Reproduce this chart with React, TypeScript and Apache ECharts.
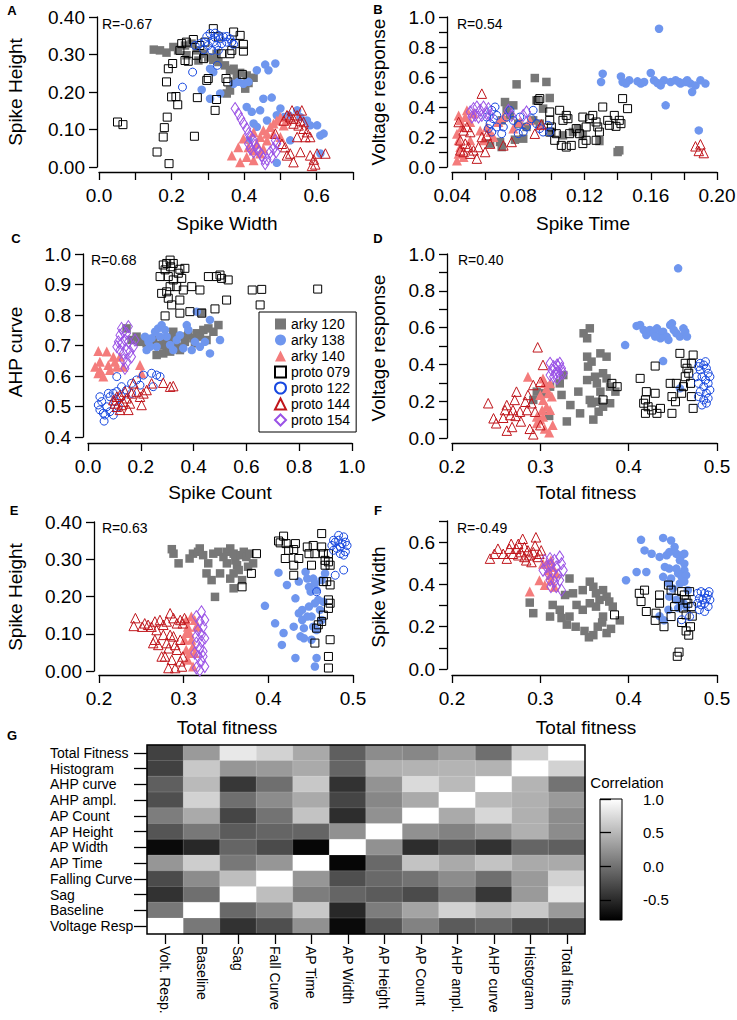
import React, { useEffect, useRef } from 'react';
import * as echarts from 'echarts';

// ---------- Panel A: Spike Width (x) vs Spike Height (y) ----------
const aArky120 = [[0.151,0.313],[0.168,0.311],[0.186,0.305],[0.205,0.320],[0.218,0.311],[0.237,0.324],[0.255,0.329],[0.269,0.311],[0.288,0.302],[0.301,0.292],[0.315,0.286],[0.329,0.280],[0.347,0.271],[0.361,0.258],[0.371,0.262],[0.389,0.251],[0.407,0.244],[0.426,0.238],[0.412,0.224],[0.403,0.209],[0.361,0.204],[0.352,0.196],[0.241,0.298],[0.274,0.284],[0.324,0.302],[0.380,0.240]];
const aArky138 = [[0.306,0.262],[0.315,0.253],[0.283,0.206],[0.306,0.182],[0.334,0.196],[0.371,0.222],[0.384,0.227],[0.398,0.222],[0.412,0.227],[0.435,0.258],[0.458,0.273],[0.467,0.258],[0.486,0.276],[0.407,0.160],[0.421,0.147],[0.444,0.151],[0.453,0.182],[0.476,0.185],[0.426,0.116],[0.435,0.107],[0.463,0.124],[0.490,0.138],[0.500,0.156],[0.509,0.133],[0.523,0.138],[0.546,0.151],[0.555,0.133],[0.573,0.124],[0.582,0.111],[0.601,0.111],[0.610,0.084],[0.619,0.089],[0.610,0.036],[0.490,0.011],[0.527,0.071],[0.412,0.071]];
const aArky140 = [[0.366,0.031],[0.389,0.013],[0.407,0.027],[0.426,0.044],[0.435,0.062],[0.444,0.080],[0.453,0.098],[0.463,0.089],[0.472,0.107],[0.481,0.116],[0.490,0.124],[0.500,0.133],[0.481,0.089],[0.426,0.093],[0.398,0.076],[0.384,0.053],[0.412,0.053],[0.444,0.036],[0.463,0.071],[0.509,0.111],[0.518,0.124],[0.500,0.080],[0.426,0.018],[0.453,0.049]];
const aProto079 = [[0.051,0.120],[0.066,0.113],[0.160,0.040],[0.177,0.080],[0.180,0.105],[0.188,0.133],[0.200,0.187],[0.212,0.188],[0.217,0.166],[0.186,0.227],[0.191,0.262],[0.203,0.276],[0.223,0.311],[0.228,0.329],[0.241,0.333],[0.246,0.282],[0.260,0.340],[0.269,0.298],[0.278,0.324],[0.288,0.289],[0.297,0.231],[0.301,0.236],[0.271,0.185],[0.320,0.151],[0.324,0.180],[0.315,0.369],[0.329,0.347],[0.338,0.302],[0.361,0.302],[0.366,0.311],[0.371,0.360],[0.375,0.329],[0.389,0.351],[0.398,0.327],[0.398,0.309],[0.350,0.236],[0.355,0.227],[0.263,0.082],[0.193,0.009],[0.237,0.284],[0.292,0.333],[0.395,0.247]];
const aProto122 = [[0.297,0.348],[0.306,0.356],[0.320,0.357],[0.329,0.351],[0.334,0.342],[0.343,0.347],[0.352,0.348],[0.361,0.342],[0.366,0.333],[0.315,0.333],[0.301,0.324],[0.292,0.333],[0.324,0.324],[0.338,0.329],[0.265,0.324],[0.278,0.329],[0.311,0.311],[0.329,0.311],[0.258,0.253],[0.230,0.213],[0.326,0.271],[0.371,0.327],[0.288,0.313],[0.352,0.333],[0.320,0.345]];
const aProto144 = [[0.509,0.124],[0.518,0.138],[0.527,0.133],[0.536,0.129],[0.546,0.138],[0.555,0.124],[0.559,0.151],[0.536,0.116],[0.550,0.111],[0.564,0.102],[0.573,0.093],[0.582,0.080],[0.569,0.080],[0.486,0.089],[0.504,0.062],[0.513,0.053],[0.527,0.036],[0.536,0.013],[0.518,0.031],[0.555,0.040],[0.582,0.031],[0.592,0.020],[0.601,0.036],[0.624,0.036],[0.596,0.007],[0.587,0.003],[0.546,0.080],[0.532,0.151],[0.564,0.120]];
const aProto154 = [[0.375,0.156],[0.384,0.142],[0.391,0.129],[0.398,0.116],[0.407,0.102],[0.412,0.089],[0.418,0.080],[0.426,0.071],[0.430,0.058],[0.435,0.049],[0.442,0.040],[0.449,0.031],[0.453,0.022],[0.458,0.009],[0.463,0.020],[0.472,0.040],[0.481,0.049],[0.488,0.040],[0.490,0.062],[0.486,0.071],[0.476,0.027],[0.426,0.040],[0.417,0.049],[0.412,0.062]];

// ---------- Panel B: Spike Time (x) vs Voltage response (y) ----------
const bArky120 = [[0.079,0.551],[0.090,0.593],[0.097,0.567],[0.099,0.460],[0.091,0.444],[0.095,0.389],[0.072,0.433],[0.077,0.411],[0.073,0.378],[0.075,0.344],[0.070,0.311],[0.080,0.289],[0.085,0.267],[0.083,0.189],[0.089,0.311],[0.093,0.289],[0.100,0.233],[0.107,0.211],[0.113,0.233],[0.116,0.256],[0.119,0.211],[0.129,0.173],[0.140,0.100],[0.141,0.111],[0.063,0.156],[0.069,0.167],[0.070,0.133],[0.078,0.182]];
const bArky138 = [[0.131,0.622],[0.130,0.567],[0.142,0.604],[0.143,0.567],[0.147,0.578],[0.152,0.571],[0.156,0.567],[0.160,0.627],[0.162,0.578],[0.164,0.560],[0.168,0.578],[0.172,0.567],[0.175,0.578],[0.178,0.556],[0.181,0.567],[0.184,0.556],[0.187,0.544],[0.190,0.578],[0.193,0.556],[0.185,0.500],[0.165,0.922],[0.169,0.411],[0.189,0.244],[0.145,0.556],[0.154,0.556],[0.166,0.544],[0.177,0.567],[0.182,0.578]];
const bArky140 = [[0.044,0.344],[0.045,0.311],[0.046,0.267],[0.043,0.222],[0.044,0.178],[0.045,0.133],[0.044,0.089],[0.043,0.044],[0.047,0.067],[0.048,0.333],[0.049,0.378],[0.051,0.300],[0.053,0.356],[0.057,0.244],[0.061,0.267],[0.063,0.233],[0.068,0.300],[0.071,0.333],[0.077,0.256],[0.081,0.300],[0.087,0.311],[0.093,0.278],[0.059,0.178],[0.051,0.178],[0.065,0.200]];
const bProto079 = [[0.092,0.444],[0.093,0.456],[0.099,0.311],[0.100,0.267],[0.099,0.233],[0.102,0.178],[0.105,0.378],[0.107,0.311],[0.109,0.344],[0.110,0.322],[0.111,0.222],[0.112,0.144],[0.106,0.144],[0.109,0.133],[0.103,0.222],[0.119,0.333],[0.121,0.267],[0.123,0.322],[0.125,0.344],[0.127,0.300],[0.128,0.267],[0.129,0.233],[0.121,0.178],[0.119,0.156],[0.127,0.178],[0.131,0.400],[0.134,0.311],[0.135,0.278],[0.138,0.344],[0.141,0.311],[0.142,0.289],[0.143,0.456],[0.146,0.389],[0.139,0.271],[0.115,0.256],[0.117,0.222],[0.099,0.367]];
const bProto122 = [[0.064,0.378],[0.066,0.400],[0.067,0.344],[0.065,0.322],[0.063,0.289],[0.062,0.256],[0.064,0.233],[0.067,0.267],[0.070,0.222],[0.073,0.333],[0.075,0.378],[0.077,0.311],[0.080,0.278],[0.080,0.222],[0.083,0.233],[0.085,0.267],[0.088,0.322],[0.089,0.378],[0.091,0.289],[0.093,0.256],[0.095,0.233],[0.098,0.278],[0.099,0.233],[0.061,0.333],[0.071,0.267],[0.081,0.333]];
const bProto144 = [[0.044,0.300],[0.047,0.244],[0.049,0.267],[0.051,0.233],[0.045,0.178],[0.048,0.156],[0.050,0.133],[0.045,0.111],[0.047,0.100],[0.051,0.089],[0.053,0.111],[0.055,0.056],[0.056,0.133],[0.058,0.200],[0.060,0.100],[0.063,0.156],[0.058,0.489],[0.061,0.211],[0.071,0.144],[0.076,0.167],[0.090,0.222],[0.094,0.284],[0.187,0.138],[0.190,0.151],[0.189,0.107],[0.192,0.093]];
const bProto154 = [[0.051,0.367],[0.053,0.389],[0.055,0.400],[0.057,0.378],[0.059,0.400],[0.054,0.344],[0.056,0.333],[0.061,0.356],[0.062,0.389],[0.052,0.333],[0.058,0.344],[0.063,0.344],[0.074,0.378],[0.076,0.344],[0.083,0.344],[0.085,0.367]];

// ---------- Panel C: Spike Count (x) vs AHP curve (y) ----------
const cArky120 = [[0.146,0.756],[0.165,0.718],[0.184,0.729],[0.197,0.712],[0.222,0.707],[0.247,0.718],[0.273,0.702],[0.285,0.718],[0.298,0.696],[0.311,0.712],[0.323,0.724],[0.336,0.696],[0.355,0.729],[0.367,0.712],[0.380,0.734],[0.399,0.724],[0.412,0.740],[0.424,0.729],[0.437,0.751],[0.456,0.756],[0.475,0.745],[0.494,0.767],[0.431,0.808],[0.323,0.745],[0.260,0.669],[0.285,0.674],[0.311,0.680],[0.348,0.685],[0.405,0.707],[0.449,0.718]];
const cArky138 = [[0.229,0.712],[0.241,0.724],[0.254,0.745],[0.266,0.756],[0.279,0.767],[0.292,0.751],[0.260,0.696],[0.235,0.696],[0.222,0.685],[0.298,0.729],[0.311,0.702],[0.336,0.718],[0.348,0.734],[0.374,0.767],[0.380,0.751],[0.412,0.811],[0.405,0.712],[0.424,0.696],[0.443,0.712],[0.462,0.784],[0.462,0.674],[0.500,0.718],[0.393,0.685],[0.361,0.691],[0.323,0.685],[0.273,0.729],[0.216,0.729]];
const cArky140 = [[0.039,0.682],[0.071,0.680],[0.102,0.647],[0.121,0.663],[0.045,0.647],[0.077,0.636],[0.039,0.609],[0.058,0.598],[0.083,0.620],[0.109,0.630],[0.134,0.630],[0.197,0.636],[0.203,0.609],[0.096,0.663],[0.045,0.620],[0.027,0.630]];
const cProto079 = [[0.311,0.980],[0.298,0.969],[0.285,0.964],[0.292,0.948],[0.313,0.958],[0.323,0.969],[0.348,0.950],[0.367,0.953],[0.342,0.937],[0.304,0.926],[0.323,0.915],[0.355,0.920],[0.311,0.893],[0.336,0.893],[0.361,0.882],[0.393,0.893],[0.424,0.882],[0.456,0.926],[0.500,0.931],[0.506,0.920],[0.531,0.915],[0.487,0.926],[0.279,0.871],[0.298,0.876],[0.304,0.855],[0.348,0.849],[0.317,0.833],[0.292,0.797],[0.348,0.806],[0.386,0.811],[0.431,0.806],[0.481,0.820],[0.525,0.849],[0.622,0.882],[0.658,0.884],[0.652,0.833],[0.870,0.885],[0.273,0.926]];
const cProto122 = [[0.039,0.505],[0.052,0.516],[0.045,0.489],[0.058,0.478],[0.071,0.499],[0.083,0.532],[0.096,0.543],[0.109,0.549],[0.102,0.516],[0.083,0.483],[0.064,0.472],[0.109,0.598],[0.127,0.565],[0.146,0.554],[0.165,0.576],[0.184,0.587],[0.197,0.570],[0.210,0.603],[0.241,0.609],[0.260,0.603],[0.273,0.598],[0.247,0.565],[0.115,0.499],[0.096,0.472],[0.077,0.543],[0.045,0.532],[0.127,0.532],[0.165,0.543],[0.061,0.452]];
const cProto144 = [[0.096,0.521],[0.109,0.532],[0.121,0.538],[0.134,0.516],[0.146,0.527],[0.159,0.510],[0.127,0.505],[0.109,0.499],[0.140,0.549],[0.165,0.543],[0.172,0.576],[0.184,0.549],[0.197,0.532],[0.210,0.543],[0.222,0.554],[0.241,0.576],[0.285,0.578],[0.311,0.565],[0.323,0.567],[0.153,0.489],[0.121,0.489],[0.102,0.510],[0.203,0.505]];
const cProto154 = [[0.127,0.756],[0.121,0.734],[0.134,0.745],[0.146,0.740],[0.115,0.712],[0.127,0.707],[0.140,0.718],[0.153,0.712],[0.121,0.685],[0.134,0.674],[0.146,0.685],[0.159,0.680],[0.134,0.653],[0.146,0.642],[0.165,0.663],[0.172,0.696],[0.178,0.718],[0.109,0.696],[0.153,0.762],[0.140,0.625]];

// ---------- Panel D: Total fitness (x) vs Voltage response (y) ----------
const dArky120 = [[0.349,0.569],[0.356,0.596],[0.353,0.542],[0.353,0.442],[0.358,0.415],[0.354,0.388],[0.368,0.460],[0.375,0.442],[0.371,0.352],[0.375,0.324],[0.362,0.333],[0.353,0.315],[0.364,0.297],[0.368,0.252],[0.379,0.279],[0.385,0.252],[0.356,0.207],[0.364,0.197],[0.371,0.170],[0.379,0.189],[0.343,0.252],[0.334,0.179],[0.324,0.234],[0.322,0.297],[0.326,0.342],[0.311,0.279],[0.303,0.243],[0.296,0.252],[0.292,0.207],[0.345,0.134],[0.366,0.143],[0.358,0.189],[0.310,0.120],[0.330,0.090],[0.360,0.100]];
const dArky138 = [[0.409,0.609],[0.413,0.614],[0.417,0.587],[0.420,0.560],[0.424,0.587],[0.428,0.569],[0.432,0.596],[0.436,0.560],[0.439,0.578],[0.443,0.551],[0.447,0.614],[0.449,0.623],[0.451,0.587],[0.454,0.569],[0.458,0.551],[0.462,0.596],[0.464,0.578],[0.466,0.551],[0.436,0.542],[0.445,0.533],[0.430,0.551],[0.456,0.922],[0.396,0.505],[0.439,0.418],[0.458,0.270]];
const dArky140 = [[0.303,0.324],[0.305,0.297],[0.307,0.270],[0.309,0.243],[0.311,0.297],[0.313,0.225],[0.303,0.207],[0.307,0.170],[0.311,0.152],[0.300,0.234],[0.302,0.152],[0.296,0.116],[0.303,0.116],[0.286,0.333],[0.296,0.080],[0.305,0.050],[0.310,0.030],[0.300,0.100],[0.314,0.070]];
const dProto079 = [[0.430,0.391],[0.413,0.324],[0.420,0.252],[0.419,0.207],[0.417,0.189],[0.422,0.170],[0.430,0.243],[0.426,0.152],[0.436,0.161],[0.419,0.134],[0.449,0.225],[0.453,0.197],[0.447,0.297],[0.458,0.460],[0.464,0.406],[0.466,0.379],[0.468,0.352],[0.471,0.406],[0.473,0.451],[0.464,0.333],[0.470,0.297],[0.460,0.243],[0.471,0.225],[0.462,0.279],[0.454,0.297],[0.473,0.161],[0.381,0.297],[0.387,0.279],[0.371,0.207],[0.432,0.134],[0.449,0.134]];
const dProto122 = [[0.479,0.388],[0.481,0.370],[0.485,0.397],[0.488,0.379],[0.490,0.352],[0.483,0.333],[0.487,0.315],[0.479,0.297],[0.485,0.279],[0.490,0.297],[0.481,0.252],[0.488,0.243],[0.479,0.225],[0.485,0.207],[0.490,0.216],[0.483,0.179],[0.488,0.189],[0.477,0.333],[0.492,0.333],[0.492,0.261],[0.481,0.406],[0.487,0.415]];
const dProto144 = [[0.297,0.493],[0.303,0.397],[0.300,0.306],[0.292,0.288],[0.286,0.234],[0.273,0.252],[0.271,0.207],[0.262,0.179],[0.241,0.189],[0.260,0.152],[0.269,0.152],[0.277,0.143],[0.285,0.152],[0.294,0.143],[0.290,0.189],[0.283,0.197],[0.247,0.107],[0.266,0.125],[0.250,0.080],[0.258,0.110],[0.268,0.060],[0.278,0.090],[0.288,0.050],[0.292,0.020],[0.272,0.120],[0.300,0.070],[0.262,0.040]];
const dProto154 = [[0.311,0.406],[0.315,0.388],[0.319,0.397],[0.322,0.406],[0.313,0.370],[0.317,0.352],[0.320,0.361],[0.324,0.379],[0.315,0.333],[0.319,0.324],[0.322,0.342],[0.311,0.342],[0.326,0.352],[0.320,0.388]];

// ---------- Panel E: Total fitness (x) vs Spike Height (y) ----------
const eArky120 = [[0.286,0.327],[0.288,0.315],[0.294,0.289],[0.307,0.302],[0.311,0.315],[0.317,0.320],[0.319,0.329],[0.323,0.311],[0.329,0.289],[0.335,0.315],[0.341,0.320],[0.347,0.306],[0.351,0.320],[0.355,0.329],[0.359,0.315],[0.361,0.297],[0.363,0.284],[0.367,0.311],[0.371,0.320],[0.374,0.306],[0.378,0.315],[0.382,0.289],[0.376,0.280],[0.365,0.271],[0.355,0.248],[0.359,0.222],[0.337,0.199],[0.327,0.262],[0.333,0.244],[0.343,0.262],[0.359,0.262],[0.351,0.289],[0.369,0.244]];
const eArky138 = [[0.396,0.175],[0.408,0.128],[0.412,0.264],[0.416,0.070],[0.418,0.102],[0.422,0.231],[0.432,0.195],[0.432,0.035],[0.436,0.155],[0.440,0.137],[0.442,0.115],[0.444,0.266],[0.446,0.248],[0.448,0.226],[0.450,0.213],[0.453,0.248],[0.455,0.235],[0.457,0.217],[0.459,0.191],[0.461,0.164],[0.463,0.137],[0.465,0.186],[0.455,0.182],[0.451,0.146],[0.446,0.146],[0.438,0.093],[0.442,0.088],[0.455,0.012],[0.457,0.035],[0.451,0.084],[0.457,0.110],[0.463,0.244],[0.467,0.262],[0.436,0.240],[0.430,0.119],[0.440,0.164],[0.448,0.173],[0.453,0.119]];
const eArky140 = [[0.303,0.137],[0.305,0.119],[0.307,0.102],[0.309,0.084],[0.311,0.066],[0.313,0.137],[0.315,0.119],[0.307,0.048],[0.305,0.030],[0.311,0.012],[0.301,0.084],[0.303,0.057],[0.309,0.146],[0.313,0.048],[0.303,0.102]];
const eProto079 = [[0.386,0.315],[0.380,0.262],[0.369,0.226],[0.412,0.349],[0.414,0.344],[0.418,0.362],[0.421,0.342],[0.424,0.324],[0.430,0.326],[0.430,0.284],[0.420,0.302],[0.432,0.342],[0.436,0.302],[0.446,0.333],[0.448,0.315],[0.453,0.337],[0.455,0.315],[0.451,0.284],[0.463,0.369],[0.463,0.333],[0.465,0.315],[0.467,0.297],[0.467,0.284],[0.471,0.315],[0.471,0.293],[0.473,0.284],[0.469,0.240],[0.473,0.231],[0.465,0.240],[0.471,0.191],[0.473,0.182],[0.471,0.168],[0.465,0.150],[0.463,0.133],[0.459,0.124],[0.457,0.115],[0.473,0.084],[0.455,0.075],[0.471,0.039],[0.471,0.008],[0.430,0.257]];
const eProto122 = [[0.475,0.337],[0.479,0.346],[0.483,0.351],[0.487,0.342],[0.489,0.360],[0.485,0.333],[0.481,0.329],[0.477,0.324],[0.491,0.320],[0.489,0.311],[0.485,0.315],[0.493,0.337],[0.479,0.257],[0.489,0.271],[0.457,0.213],[0.477,0.351],[0.483,0.364],[0.491,0.346]];
const eProto144 = [[0.243,0.142],[0.241,0.121],[0.251,0.119],[0.254,0.128],[0.258,0.124],[0.262,0.119],[0.266,0.133],[0.268,0.110],[0.272,0.137],[0.276,0.124],[0.280,0.133],[0.284,0.155],[0.288,0.142],[0.292,0.128],[0.296,0.137],[0.299,0.128],[0.301,0.142],[0.266,0.084],[0.270,0.070],[0.276,0.097],[0.280,0.075],[0.282,0.061],[0.284,0.097],[0.288,0.093],[0.290,0.070],[0.292,0.057],[0.296,0.084],[0.274,0.039],[0.278,0.039],[0.286,0.030],[0.282,0.008],[0.290,0.008],[0.296,0.026],[0.298,0.012],[0.299,0.039],[0.264,0.075]];
const eProto154 = [[0.321,0.159],[0.315,0.146],[0.319,0.133],[0.323,0.119],[0.317,0.110],[0.321,0.097],[0.325,0.088],[0.315,0.075],[0.319,0.061],[0.323,0.053],[0.317,0.039],[0.321,0.026],[0.325,0.012],[0.315,0.008],[0.319,0.002],[0.323,0.039],[0.313,0.048],[0.325,0.137],[0.315,0.093],[0.321,0.079]];

// ---------- Panel F: Total fitness (x) vs Spike Width (y) ----------
const fArky120 = [[0.288,0.314],[0.292,0.264],[0.314,0.303],[0.322,0.280],[0.328,0.350],[0.333,0.428],[0.337,0.358],[0.348,0.373],[0.356,0.413],[0.360,0.389],[0.363,0.358],[0.367,0.327],[0.371,0.373],[0.375,0.342],[0.378,0.319],[0.382,0.295],[0.363,0.295],[0.371,0.248],[0.356,0.311],[0.348,0.280],[0.341,0.303],[0.333,0.248],[0.324,0.241],[0.311,0.248],[0.340,0.200],[0.350,0.180],[0.360,0.160],[0.370,0.220],[0.380,0.190],[0.390,0.230],[0.330,0.210],[0.365,0.200],[0.355,0.150],[0.375,0.170]];
const fArky138 = [[0.414,0.611],[0.439,0.620],[0.448,0.608],[0.418,0.561],[0.426,0.545],[0.435,0.530],[0.443,0.538],[0.446,0.553],[0.452,0.577],[0.454,0.545],[0.460,0.538],[0.463,0.545],[0.458,0.514],[0.463,0.498],[0.441,0.483],[0.446,0.475],[0.454,0.475],[0.463,0.467],[0.409,0.459],[0.420,0.459],[0.439,0.436],[0.448,0.428],[0.456,0.452],[0.460,0.436],[0.465,0.444],[0.397,0.420],[0.445,0.405],[0.450,0.381],[0.458,0.405],[0.463,0.413],[0.467,0.373],[0.446,0.342],[0.454,0.327],[0.462,0.311],[0.445,0.280],[0.456,0.288],[0.465,0.295],[0.440,0.230],[0.435,0.250]];
const fArky140 = [[0.288,0.366],[0.299,0.420],[0.305,0.397],[0.307,0.498],[0.309,0.467],[0.311,0.444],[0.312,0.420],[0.314,0.483],[0.316,0.389],[0.318,0.452],[0.303,0.498],[0.312,0.514]];
const fProto079 = [[0.412,0.358],[0.414,0.319],[0.418,0.373],[0.435,0.350],[0.435,0.311],[0.445,0.397],[0.448,0.373],[0.454,0.334],[0.460,0.366],[0.463,0.350],[0.465,0.327],[0.469,0.366],[0.467,0.311],[0.471,0.295],[0.452,0.295],[0.462,0.288],[0.420,0.272],[0.431,0.264],[0.448,0.248],[0.465,0.256],[0.384,0.256],[0.440,0.200],[0.460,0.220],[0.465,0.180],[0.470,0.200],[0.455,0.060],[0.457,0.080],[0.430,0.230],[0.472,0.250],[0.468,0.160]];
const fProto122 = [[0.478,0.358],[0.482,0.366],[0.486,0.358],[0.490,0.350],[0.480,0.334],[0.484,0.327],[0.488,0.334],[0.492,0.327],[0.478,0.311],[0.482,0.303],[0.486,0.311],[0.490,0.295],[0.480,0.280],[0.486,0.272],[0.491,0.366],[0.469,0.248],[0.460,0.233]];
const fProto144 = [[0.243,0.522],[0.248,0.545],[0.252,0.569],[0.258,0.545],[0.262,0.522],[0.265,0.569],[0.269,0.545],[0.273,0.569],[0.275,0.538],[0.278,0.553],[0.282,0.577],[0.286,0.561],[0.288,0.538],[0.292,0.553],[0.295,0.623],[0.294,0.584],[0.297,0.530],[0.301,0.561],[0.284,0.514],[0.290,0.506],[0.282,0.530],[0.267,0.592],[0.275,0.592],[0.280,0.616],[0.299,0.545]];
const fProto154 = [[0.305,0.514],[0.311,0.522],[0.316,0.514],[0.322,0.530],[0.307,0.483],[0.312,0.491],[0.318,0.483],[0.324,0.498],[0.309,0.452],[0.314,0.459],[0.320,0.444],[0.326,0.467],[0.311,0.420],[0.316,0.413],[0.322,0.420],[0.318,0.389],[0.324,0.373],[0.312,0.389],[0.303,0.467]];

// ---------- Panel G: correlation matrix ----------
const corrRowLabels = ['Total Fitness','Histogram','AHP curve','AHP ampl.','AP Count','AP Height','AP Width','AP Time','Falling Curve','Sag','Baseline','Voltage Resp'];
const corrColLabels = ['Volt. Resp.','Baseline','Sag','Fall Curve','AP Time','AP Width','AP Height','AP Count','AHP ampl.','AHP curve','Histogram','Total fitns'];
const corrTotalFitness = [-0.34,0.29,0.84,0.68,0.39,-0.13,0.19,0.15,0.33,-0.02,0.65,1.0];
const corrHistogram = [-0.34,0.61,0.26,0.29,0.40,-0.09,0.44,0.46,0.47,0.46,1.0,0.68];
const corrAhpCurve = [-0.13,0.51,-0.41,-0.02,0.61,-0.45,0.24,0.74,0.51,1.0,0.47,0.01];
const corrAhpAmpl = [-0.24,0.68,-0.02,0.19,0.40,-0.31,0.15,0.40,1.0,0.51,0.44,0.29];
const corrApCount = [0.08,0.40,-0.31,0.01,0.58,-0.48,0.22,1.0,0.40,0.72,0.44,0.19];
const corrApHeight = [-0.20,0.05,-0.16,-0.09,-0.09,0.22,1.0,0.22,0.12,0.26,0.44,0.19];
const corrApWidth = [-0.73,-0.52,-0.09,-0.27,-0.76,1.0,0.22,-0.48,-0.27,-0.45,-0.09,-0.13];
const corrApTime = [0.26,0.65,0.05,0.26,1.0,-0.76,-0.06,0.58,0.40,0.58,0.40,0.40];
const corrFallingCurve = [-0.27,0.19,0.54,1.0,0.26,-0.24,-0.06,0.01,0.19,-0.02,0.29,0.68];
const corrSag = [-0.45,-0.02,1.0,0.54,0.08,-0.09,-0.16,-0.27,0.01,-0.41,0.29,0.82];
const corrBaseline = [0.05,1.0,-0.06,0.15,0.61,-0.52,0.08,0.36,0.68,0.51,0.61,0.29];
const corrVoltageResp = [1.0,0.05,-0.45,-0.24,0.22,-0.73,-0.20,0.12,-0.16,-0.09,-0.27,-0.27];
const corrRows = [corrTotalFitness,corrHistogram,corrAhpCurve,corrAhpAmpl,corrApCount,corrApHeight,corrApWidth,corrApTime,corrFallingCurve,corrSag,corrBaseline,corrVoltageResp];
const corrMin = -0.8;
const corrMax = 1.0;
const colorbarTicks = [-0.5, 0, 0.5, 1.0];

const seriesNames = ['arky 120','arky 138','arky 140','proto 079','proto 122','proto 144','proto 154'];
const rValues = ['R=-0.67','R=0.54','R=0.68','R=0.40','R=0.63','R=-0.49'];

const panelSets = [
  [aArky120,aArky138,aArky140,aProto079,aProto122,aProto144,aProto154],
  [bArky120,bArky138,bArky140,bProto079,bProto122,bProto144,bProto154],
  [cArky120,cArky138,cArky140,cProto079,cProto122,cProto144,cProto154],
  [dArky120,dArky138,dArky140,dProto079,dProto122,dProto144,dProto154],
  [eArky120,eArky138,eArky140,eProto079,eProto122,eProto144,eProto154],
  [fArky120,fArky138,fArky140,fProto079,fProto122,fProto144,fProto154],
];

const FONT = "'Liberation Sans', Arial, Helvetica, sans-serif";

const STYLES = [
  { symbol: 'rect', size: 8.5, color: '#777777', open: false },
  { symbol: 'circle', size: 8.5, color: '#6f96ee', open: false },
  { symbol: 'triangle', size: 10, color: '#f47c7c', open: false },
  { symbol: 'rect', size: 8, color: '#000000', open: true },
  { symbol: 'circle', size: 8, color: '#1748e0', open: true },
  { symbol: 'triangle', size: 9.5, color: '#c0161c', open: true },
  { symbol: 'diamond', size: [8, 12], color: '#9a52e6', open: true },
];

const LAYOUT = [
  { left: 99, top: 17, width: 254, height: 150, x: { min: 0, max: 0.7, step: 0.1, every: 2, d: 1, offset: 5 }, y: { min: 0, max: 0.4, step: 0.1, every: 1, d: 2, offset: 2 } },
  { left: 452, top: 17, width: 265, height: 150, x: { min: 0.04, max: 0.2, step: 0.02, every: 2, d: 2, offset: 5 }, y: { min: 0, max: 1, step: 0.1, every: 2, d: 1, offset: 5 } },
  { left: 88, top: 254, width: 264, height: 183, x: { min: 0, max: 1, step: 0.2, every: 1, d: 1, offset: 6 }, y: { min: 0.4, max: 1, step: 0.1, every: 1, d: 1, offset: 5 } },
  { left: 452, top: 254, width: 265, height: 184, x: { min: 0.2, max: 0.5, step: 0.1, every: 1, d: 1, offset: 5 }, y: { min: 0, max: 1, step: 0.1, every: 2, d: 1, offset: 5 } },
  { left: 99, top: 522, width: 254, height: 149, x: { min: 0.2, max: 0.5, step: 0.1, every: 1, d: 1, offset: 4 }, y: { min: 0, max: 0.4, step: 0.1, every: 1, d: 2, offset: 5 } },
  { left: 452, top: 521, width: 265, height: 148, x: { min: 0.2, max: 0.5, step: 0.1, every: 1, d: 1, offset: 6 }, y: { min: 0, max: 0.7, step: 0.1, every: 2, d: 1, offset: 5 } },
];

const LETTERS = [
  ['A', 12, 10], ['B', 378, 9], ['C', 16, 238], ['D', 378, 238], ['E', 14, 510], ['F', 378, 510], ['G', 12, 735],
];
const R_POS = [[102, 24], [457, 24], [91, 260], [458, 260], [102, 528], [457, 528]];
const X_TITLES = [['Spike Width', 227, 223], ['Spike Time', 583, 223], ['Spike Count', 220, 492], ['Total fitness', 586, 492], ['Total fitness', 227, 727], ['Total fitness', 586, 727]];
const Y_TITLES = [['Spike Height', 15, 92], ['Voltage response', 378, 92], ['AHP curve', 15, 352], ['Voltage response', 378, 348], ['Spike Height', 15, 597], ['Spike Width', 378, 597]];

function valAxis(kind: 'x' | 'y', gi: number, ax: any) {
  return {
    type: 'value',
    gridIndex: gi,
    min: ax.min,
    max: ax.max,
    interval: ax.step,
    position: kind === 'x' ? 'bottom' : 'left',
    offset: ax.offset,
    axisLine: { show: true, onZero: false, lineStyle: { color: '#000', width: 1.3 } },
    axisTick: { show: true, inside: false, length: 8, lineStyle: { color: '#000', width: 1.3 } },
    minorTick: { show: false },
    splitLine: { show: false },
    axisLabel: {
      show: true,
      fontSize: 19,
      color: '#000',
      fontFamily: FONT,
      margin: kind === 'x' ? 14 : 12,
      showMinLabel: true,
      showMaxLabel: true,
      formatter: (v: number) => {
        const k = Math.round(v / ax.step);
        return k % ax.every === 0 ? v.toFixed(ax.d) : '';
      },
    },
  };
}

function txt(text: string, x: number, y: number, size: number, opts: any = {}) {
  const align = opts.align || 'center';
  return {
    type: 'text',
    x,
    y,
    rotation: opts.rotation || 0,
    silent: true,
    z: 100,
    style: {
      text,
      fill: '#000',
      fontSize: size,
      fontFamily: FONT,
      fontWeight: opts.bold ? 'bold' : 'normal',
      textAlign: align,
      align,
      textVerticalAlign: 'middle',
      verticalAlign: 'middle',
    },
  };
}

function buildOption() {
  const grid: any[] = [];
  const xAxis: any[] = [];
  const yAxis: any[] = [];
  const series: any[] = [];

  LAYOUT.forEach((L, gi) => {
    grid.push({ left: L.left, top: L.top, width: L.width, height: L.height, containLabel: false, outerBoundsMode: 'none', show: false });
    xAxis.push(valAxis('x', gi, L.x));
    yAxis.push(valAxis('y', gi, L.y));
  });

  panelSets.forEach((sets, gi) => {
    sets.forEach((data, si) => {
      const s = STYLES[si];
      series.push({
        type: 'scatter',
        name: seriesNames[si],
        xAxisIndex: gi,
        yAxisIndex: gi,
        data,
        symbol: s.symbol,
        symbolSize: s.size,
        clip: false,
        silent: true,
        z: 2 + si * 0.01,
        itemStyle: s.open
          ? { color: 'rgba(255,255,255,0)', borderColor: s.color, borderWidth: 1, opacity: 1 }
          : { color: s.color, borderWidth: 0, opacity: 1 },
        emphasis: { disabled: true },
      });
    });
  });

  // heatmap grid (index 6)
  grid.push({ left: 147, top: 745, width: 438, height: 189, containLabel: false, outerBoundsMode: 'none', show: true, borderColor: '#000', borderWidth: 1.5, backgroundColor: 'transparent', z: 3 });
  xAxis.push({
    type: 'category', gridIndex: 6, data: corrColLabels, position: 'bottom',
    axisLine: { show: false },
    axisTick: { show: true, alignWithLabel: true, length: 10, lineStyle: { color: '#000', width: 1.3 } },
    axisLabel: { interval: 0, rotate: -90, margin: 12, fontSize: 14, color: '#000', fontFamily: FONT },
    splitLine: { show: false },
  });
  yAxis.push({
    type: 'category', gridIndex: 6, data: corrRowLabels.slice().reverse(), position: 'left',
    axisLine: { show: false },
    axisTick: { show: true, alignWithLabel: true, length: 13, lineStyle: { color: '#000', width: 1.3 } },
    axisLabel: { interval: 0, align: 'left', margin: 97, fontSize: 14, color: '#000', fontFamily: FONT },
    splitLine: { show: false },
  });
  const heatData: number[][] = [];
  corrRows.forEach((row, r) => row.forEach((v, c) => heatData.push([c, corrRows.length - 1 - r, v])));
  const heatIndex = series.length;
  series.push({
    type: 'heatmap', xAxisIndex: 6, yAxisIndex: 6, data: heatData, silent: true,
    itemStyle: { borderColor: 'rgba(255,255,255,0.25)', borderWidth: 0.6 },
    emphasis: { disabled: true },
  });

  // colorbar grid (index 7)
  grid.push({
    left: 600, top: 799, width: 22, height: 121, containLabel: false, outerBoundsMode: 'none', show: true,
    borderColor: '#000', borderWidth: 1,
    backgroundColor: new echarts.graphic.LinearGradient(0, 0, 0, 1, [
      { offset: 0, color: '#ffffff' },
      { offset: 1, color: '#000000' },
    ]),
  });
  xAxis.push({ type: 'value', gridIndex: 7, show: false, min: 0, max: 1 });
  yAxis.push({
    type: 'value', gridIndex: 7, position: 'right', min: corrMin, max: corrMax,
    axisLine: { show: false },
    axisTick: { show: true, length: 11, customValues: colorbarTicks, lineStyle: { color: '#000', width: 1.3 } },
    axisLabel: { show: true, margin: 21, fontSize: 15, color: '#000', fontFamily: FONT, customValues: colorbarTicks, formatter: (v: number) => v.toFixed(1) },
    splitLine: { show: false },
  });

  const graphic: any[] = [];
  LETTERS.forEach(([t, x, y]) => graphic.push(txt(t as string, x as number, y as number, 13, { bold: true })));
  R_POS.forEach(([x, y], i) => graphic.push(txt(rValues[i], x, y, 14, { align: 'left' })));
  X_TITLES.forEach(([t, x, y]) => graphic.push(txt(t as string, x as number, y as number, 19)));
  Y_TITLES.forEach(([t, x, y]) => graphic.push(txt(t as string, x as number, y as number, 19, { rotation: Math.PI / 2 })));
  graphic.push(txt('Correlation', 627, 782, 15));

  return {
    animation: false,
    backgroundColor: '#ffffff',
    textStyle: { fontFamily: FONT, color: '#000' },
    grid,
    xAxis,
    yAxis,
    series,
    visualMap: [{
      type: 'continuous', show: false, min: corrMin, max: corrMax, dimension: 2,
      seriesIndex: heatIndex, inRange: { color: ['#000000', '#ffffff'] },
    }],
    legend: {
      show: true, orient: 'vertical', left: 259, top: 312,
      itemWidth: 11, itemHeight: 11, itemGap: 2,
      padding: [5, 6, 5, 15],
      borderColor: '#000', borderWidth: 1, backgroundColor: '#ffffff',
      textStyle: { fontSize: 14, color: '#000', fontFamily: FONT },
      selectedMode: false,
      data: seriesNames,
      z: 10,
    },
    graphic,
  };
}

export default function App() {
  const ref = useRef<HTMLDivElement>(null);
  useEffect(() => {
    if (!ref.current) return;
    const chart = echarts.init(ref.current, null, { renderer: 'svg' });
    chart.setOption(buildOption() as any);
    return () => chart.dispose();
  }, []);
  return (
    <div
      ref={ref}
      style={{ position: 'fixed', left: 0, top: 0, width: 737, height: 1020, background: '#fff' }}
    />
  );
}
